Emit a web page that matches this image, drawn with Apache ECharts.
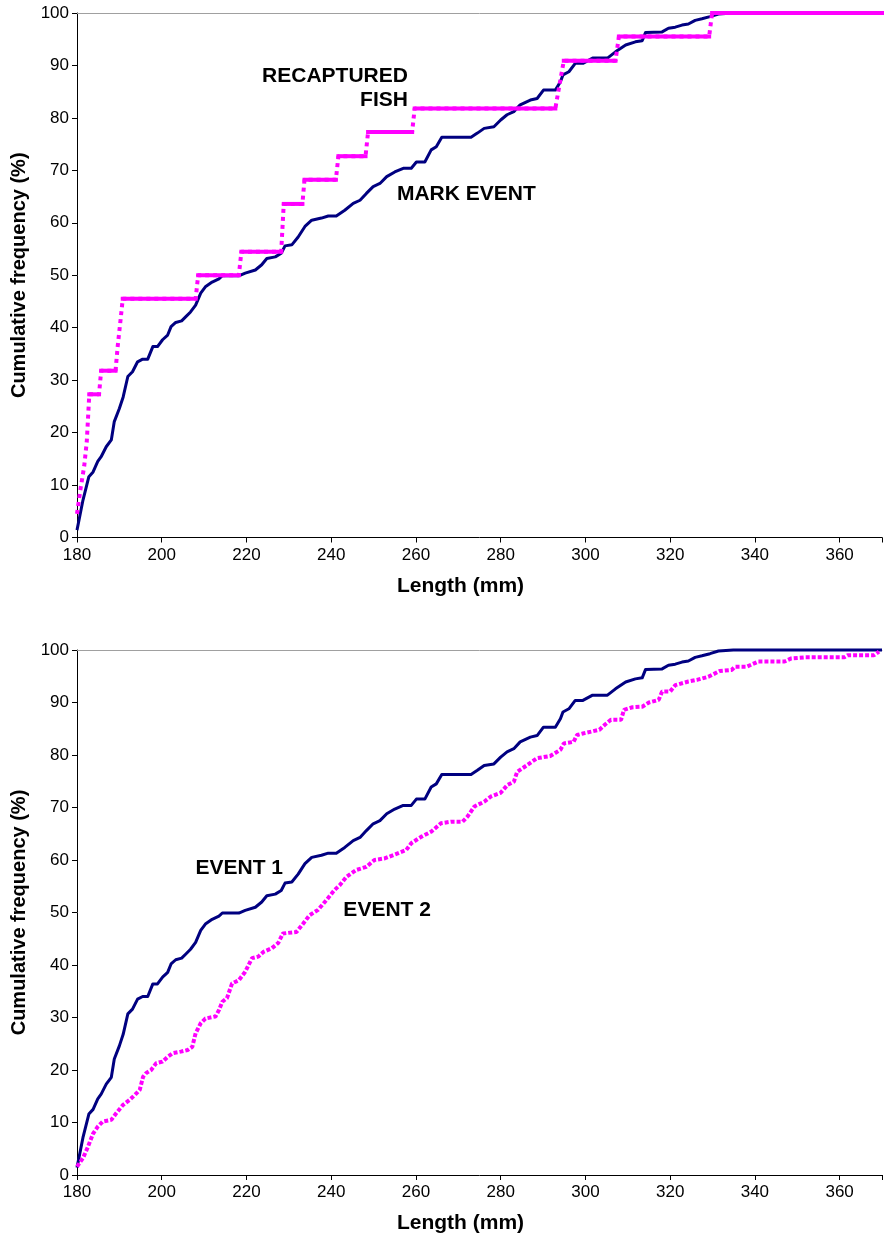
<!DOCTYPE html>
<html>
<head>
<meta charset="utf-8">
<script src="https://cdn.jsdelivr.net/npm/echarts@6/dist/echarts.min.js"></script>
<style>
html,body{margin:0;padding:0;background:#fff;}
#c{width:885px;height:1237px;}
</style>
</head>
<body>
<div id="c"></div>
<script>
// ---------- DATA ----------
// Length ticks (mm) and frequency ticks (%)
const lengthTicks = [180, 200, 220, 240, 260, 280, 300, 320, 340, 360];
const freqTicks = [0, 10, 20, 30, 40, 50, 60, 70, 80, 90, 100];

// Mark event (= Event 1) cumulative frequency
const markLen = [180.0, 181.4, 182.8, 183.8, 184.9, 185.7, 186.9, 188.1, 188.8, 190.0, 190.9, 192.0, 193.1, 194.3, 195.5, 196.7, 197.9, 199.0, 200.2, 201.4, 202.2, 203.3, 204.7, 205.7, 206.8, 208.0, 209.2, 210.3, 211.9, 213.5, 214.3, 218.2, 219.7, 222.1, 223.6, 224.8, 226.8, 228.2, 229.1, 230.7, 232.2, 233.8, 235.4, 237.7, 239.3, 241.2, 243.2, 245.2, 246.8, 248.3, 249.9, 251.5, 253.1, 255.0, 257.0, 258.9, 260.1, 262.1, 263.6, 264.8, 266.1, 267.5, 273.0, 274.5, 276.1, 278.4, 280.0, 281.5, 283.1, 284.6, 287.0, 288.6, 290.1, 292.9, 294.1, 294.7, 296.1, 297.6, 299.4, 301.7, 305.2, 307.1, 309.5, 311.8, 313.4, 314.2, 318.1, 319.6, 321.2, 322.8, 324.3, 325.9, 327.5, 329.4, 331.4, 334.9, 370.0];
const markPct = [1.4, 7.1, 11.6, 12.5, 14.5, 15.4, 17.3, 18.6, 22.1, 24.6, 26.8, 30.7, 31.6, 33.5, 34.0, 34.0, 36.4, 36.4, 37.7, 38.6, 40.2, 41.0, 41.3, 42.1, 43.0, 44.3, 46.6, 47.8, 48.7, 49.3, 49.9, 49.9, 50.4, 51.0, 52.0, 53.2, 53.5, 54.2, 55.6, 55.8, 57.3, 59.3, 60.5, 60.9, 61.3, 61.3, 62.4, 63.7, 64.3, 65.6, 66.9, 67.5, 68.8, 69.7, 70.4, 70.4, 71.6, 71.6, 73.9, 74.5, 76.3, 76.3, 76.3, 77.1, 78.0, 78.3, 79.6, 80.6, 81.2, 82.5, 83.4, 83.7, 85.3, 85.3, 86.9, 88.2, 88.8, 90.4, 90.4, 91.4, 91.4, 92.6, 93.9, 94.5, 94.7, 96.3, 96.4, 97.1, 97.3, 97.7, 97.9, 98.6, 98.9, 99.3, 99.8, 100.0, 100.0];

// Recaptured fish cumulative frequency (step vertices)
const recapLen = [180.0, 180.8, 181.7, 182.3, 182.6, 182.9, 185.2, 185.7, 189.1, 189.6, 190.2, 190.8, 208.0, 208.6, 218.2, 218.8, 228.2, 228.5, 228.8, 233.2, 233.7, 241.1, 241.7, 248.1, 248.7, 259.1, 259.7, 292.9, 293.9, 294.9, 307.1, 307.9, 329.2, 329.9, 370.0];
const recapPct = [4.5, 9.1, 13.6, 18.2, 22.7, 27.3, 27.3, 31.8, 31.8, 36.4, 40.9, 45.5, 45.5, 50.0, 50.0, 54.5, 54.5, 59.1, 63.6, 63.6, 68.2, 68.2, 72.7, 72.7, 77.3, 77.3, 81.8, 81.8, 86.4, 90.9, 90.9, 95.5, 95.5, 100.0, 100.0];

// Event 2 cumulative frequency
const event2Len = [180.0, 181.4, 182.6, 183.8, 184.9, 186.1, 188.1, 189.3, 190.8, 192.4, 193.6, 194.8, 195.6, 196.3, 197.5, 198.7, 200.2, 201.4, 202.6, 204.5, 206.1, 207.2, 208.0, 209.2, 210.3, 212.7, 213.5, 214.3, 215.4, 216.6, 218.2, 219.7, 221.3, 222.8, 224.0, 226.0, 227.5, 228.6, 231.8, 233.4, 234.9, 236.9, 238.9, 240.8, 242.0, 243.6, 245.9, 248.3, 250.2, 252.6, 254.9, 257.7, 258.9, 261.2, 263.6, 265.9, 268.3, 271.0, 272.2, 273.8, 276.1, 277.7, 280.0, 281.6, 283.1, 283.9, 286.3, 288.6, 291.7, 294.1, 294.9, 297.2, 298.0, 299.4, 303.3, 304.5, 306.0, 308.4, 309.1, 311.1, 313.4, 315.0, 317.3, 318.1, 320.0, 321.2, 324.3, 326.3, 329.0, 331.7, 334.5, 335.3, 338.0, 340.8, 347.0, 348.6, 351.7, 361.1, 361.9, 368.1, 369.3];
const event2Pct = [1.6, 3.2, 5.4, 7.9, 9.2, 10.2, 10.5, 11.8, 13.3, 14.3, 15.2, 16.2, 18.7, 19.4, 20.0, 21.3, 21.6, 22.5, 23.2, 23.5, 23.8, 24.4, 27.0, 28.9, 29.8, 30.2, 31.4, 33.0, 33.7, 36.5, 37.1, 38.7, 41.3, 41.6, 42.5, 43.2, 44.2, 46.0, 46.3, 47.9, 49.5, 50.5, 52.4, 54.3, 55.2, 56.8, 58.1, 58.7, 60.0, 60.3, 61.0, 61.9, 63.2, 64.4, 65.4, 67.0, 67.3, 67.3, 68.3, 70.2, 71.1, 72.1, 72.8, 74.3, 74.9, 76.8, 78.1, 79.4, 79.8, 81.0, 82.2, 82.5, 83.8, 84.1, 84.8, 85.7, 86.7, 86.7, 88.6, 89.1, 89.2, 90.0, 90.5, 92.1, 92.1, 93.3, 94.0, 94.3, 94.9, 96.0, 96.2, 96.8, 96.8, 97.8, 97.8, 98.4, 98.6, 98.6, 99.0, 99.0, 99.7];

// Annotation texts
const topNotes = ['RECAPTURED\nFISH', 'MARK EVENT'];
const bottomNotes = ['EVENT 1', 'EVENT 2'];
const axisTitles = { x: 'Length (mm)', y: 'Cumulative frequency (%)' };

// ---------- CHART ----------
const NAVY = '#000080', PINK = '#FF00FF';
const FONT = '"Liberation Sans", Arial, Helvetica, sans-serif';
const pairs = (xs, ys) => xs.map((x, i) => [x, ys[i]]);

const grids = [
  { left: 77, top: 13, width: 810, height: 524.5 },
  { left: 77, top: 650, width: 810, height: 525 }
];

function xAxisFor(g) {
  return {
    type: 'value', gridIndex: g, min: 180, max: 370, interval: 20,
    position: 'bottom',
    axisLine: { onZero: false, lineStyle: { color: '#000', width: 1 } },
    axisTick: { show: true, length: 5, inside: false, lineStyle: { color: '#000' } },
    axisLabel: {
      fontFamily: FONT, fontSize: 17, color: '#000', margin: 9,
      formatter: v => lengthTicks.includes(v) ? String(v) : ''
    },
    splitLine: { show: false },
    name: axisTitles.x, nameLocation: 'middle', nameGap: 38,
    nameTextStyle: { fontFamily: FONT, fontSize: 21, fontWeight: 'bold', color: '#000',
      padding: [0, 38, 0, 0] }
  };
}
function topBorderFor(g) {
  return {
    type: 'value', gridIndex: g, min: 180, max: 370, position: 'top',
    axisLine: { onZero: false, lineStyle: { color: '#a0a0a0', width: 1 } },
    axisTick: { show: false }, axisLabel: { show: false }, splitLine: { show: false }
  };
}
function yAxisFor(g) {
  return {
    type: 'value', gridIndex: g, min: 0, max: 100, interval: 10,
    axisLine: { show: true, onZero: false, lineStyle: { color: '#000', width: 1 } },
    axisTick: { show: true, length: 5, lineStyle: { color: '#000' } },
    axisLabel: { fontFamily: FONT, fontSize: 17, color: '#000', margin: 8,
      formatter: v => freqTicks.includes(v) ? String(v) : '' },
    splitLine: { show: false },
    name: axisTitles.y, nameLocation: 'middle', nameGap: 48, nameRotate: 90,
    nameTextStyle: { fontFamily: FONT, fontSize: 20, fontWeight: 'bold', color: '#000' }
  };
}

// one solid series per flat plateau of the recaptured step curve
const recapFlatSeries = [];
for (let i = 0; i < recapLen.length - 1; i++) {
  if (recapPct[i] === recapPct[i + 1] && recapLen[i + 1] - recapLen[i] > 1) {
    recapFlatSeries.push({
      type: 'line', xAxisIndex: 0, yAxisIndex: 0, silent: true,
      data: [[recapLen[i], recapPct[i]], [recapLen[i + 1], recapPct[i + 1]]],
      showSymbol: false, symbol: 'none', clip: false,
      lineStyle: { color: PINK, width: 4, type: 'solid', cap: 'square' }, z: 5
    });
  }
}

const option = {
  animation: false,
  backgroundColor: '#fff',
  grid: grids,
  xAxis: [xAxisFor(0), xAxisFor(1), topBorderFor(0), topBorderFor(1)],
  yAxis: [yAxisFor(0), yAxisFor(1)],
  series: [
    { type: 'line', xAxisIndex: 0, yAxisIndex: 0, data: pairs(markLen, markPct),
      showSymbol: false, symbol: 'none', clip: false,
      lineStyle: { color: NAVY, width: 3, join: 'round' }, z: 3 },
    { type: 'line', xAxisIndex: 0, yAxisIndex: 0, data: pairs(recapLen, recapPct),
      showSymbol: false, symbol: 'none', clip: false,
      lineStyle: { color: PINK, width: 4, type: [4, 4], cap: 'butt' }, z: 4 },
    ...recapFlatSeries,
    { type: 'line', xAxisIndex: 1, yAxisIndex: 1, data: pairs(markLen, markPct),
      showSymbol: false, symbol: 'none', clip: false,
      lineStyle: { color: NAVY, width: 3, join: 'round' }, z: 3 },
    { type: 'line', xAxisIndex: 1, yAxisIndex: 1, data: pairs(event2Len, event2Pct),
      showSymbol: false, symbol: 'none', clip: false,
      lineStyle: { color: PINK, width: 4, type: [4, 2], cap: 'butt' }, z: 4 }
  ]
};

const chart = echarts.init(document.getElementById('c'), null, { renderer: 'canvas' });
chart.setOption(option);

// annotations anchored at data coordinates of each panel
const notes = [
  { grid: 0, text: topNotes[0], at: [258.1, 85.7], align: 'right' },
  { grid: 0, text: topNotes[1], at: [271.9, 65.5], align: 'center' },
  { grid: 1, text: bottomNotes[0], at: [218.3, 58.5], align: 'center' },
  { grid: 1, text: bottomNotes[1], at: [253.2, 50.5], align: 'center' }
];
chart.setOption({
  graphic: notes.map(n => {
    const p = chart.convertToPixel({ gridIndex: n.grid }, n.at);
    return {
      type: 'text', x: p[0], y: p[1], silent: true, z: 20,
      style: {
        text: n.text, fill: '#000', font: 'bold 21px ' + FONT,
        align: n.align, verticalAlign: 'middle', lineHeight: 24
      }
    };
  })
});
</script>
</body>
</html>
